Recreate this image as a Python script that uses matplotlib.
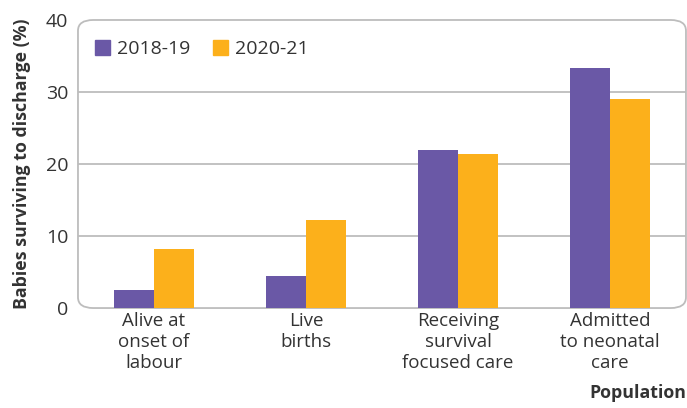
import matplotlib
matplotlib.use("Agg")
import matplotlib.pyplot as plt
import matplotlib.patches as mpatches
from matplotlib.patches import FancyBboxPatch
import numpy as np

plt.rcParams["font.family"] = ["Open Sans", "DejaVu Sans"]

categories = ["Alive at\nonset of\nlabour", "Live\nbirths",
              "Receiving\nsurvival\nfocused care", "Admitted\nto neonatal\ncare"]
series_names = ["2018-19", "2020-21"]
vals_2018 = [2.5, 4.4, 21.9, 33.3]
vals_2020 = [8.2, 12.2, 21.4, 29.0]
colors = ["#6A58A6", "#FCB01B"]

TXT = "#333333"
GRID = "#BDBDBD"

fig = plt.figure(figsize=(6.87, 4.08), dpi=100)
ax = fig.add_axes([0.1135, 0.245, 0.885, 0.706])

x = np.arange(len(categories))
w = 0.263
ax.bar(x - w / 2, vals_2018, w, color=colors[0], label=series_names[0], zorder=3)
ax.bar(x + w / 2, vals_2020, w, color=colors[1], label=series_names[1], zorder=3)

ax.set_xlim(-0.5, 3.5)
ax.set_ylim(0, 40)
ax.set_yticks([0, 10, 20, 30, 40])
ax.set_xticks(x)
ax.set_xticklabels(categories, fontsize=13.5, color=TXT, linespacing=1.2)
ax.tick_params(axis="y", length=0, pad=7, labelsize=14, labelcolor=TXT)
ax.tick_params(axis="x", length=0, pad=3)

for s in ax.spines.values():
    s.set_visible(False)

for yv in [10, 20, 30]:
    ax.axhline(yv, color=GRID, lw=1.3, zorder=1)

# rounded frame
box = FancyBboxPatch((0, 0), 1, 1, boxstyle="round,pad=0,rounding_size=0.025",
                     transform=ax.transAxes, fill=False, edgecolor=GRID,
                     lw=1.3, clip_on=False, zorder=2,
                     mutation_aspect=1.5)
ax.add_patch(box)

ax.set_ylabel("Babies surviving to discharge (%)", fontsize=12.8, fontweight="bold",
              color=TXT)
ax.yaxis.set_label_coords(-0.078, 0.5)

fig.text(0.999, 0.015, "Population", fontsize=12.8, fontweight="bold", color=TXT,
         ha="right", va="bottom")

handles = [mpatches.Patch(color=c, label=n) for c, n in zip(colors, series_names)]
ax.legend(handles=handles, loc="upper left", ncol=2, frameon=False, fontsize=14,
          handlelength=0.75, handleheight=0.75, handletextpad=0.35, columnspacing=1.2,
          bbox_to_anchor=(0.0, 0.99), labelcolor=TXT)

fig.savefig("out.png", dpi=100)
